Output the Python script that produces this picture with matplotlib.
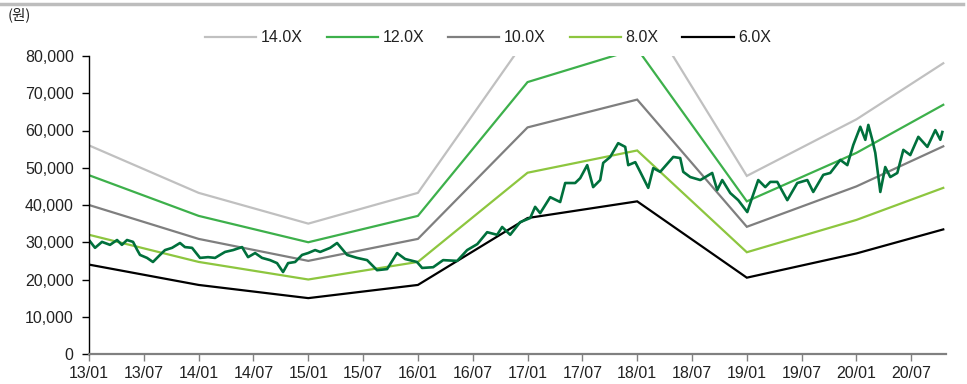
import matplotlib
matplotlib.use("Agg")
import matplotlib.pyplot as plt
from matplotlib.lines import Line2D
import numpy as np

# ---- data ----
tick_labels = ["13/01", "13/07", "14/01", "14/07", "15/01", "15/07", "16/01", "16/07",
               "17/01", "17/07", "18/01", "18/07", "19/01", "19/07", "20/01", "20/07"]
tick_months = [0, 6, 12, 18, 24, 30, 36, 42, 48, 54, 60, 66, 72, 78, 84, 90]

# band knots (months since 2013/01) and EPS (원)
eps_months = [0, 12, 24, 36, 48, 60, 72, 84, 93.5]
eps_values = [4000, 3090, 2500, 3090, 6083, 6830, 3415, 4500, 5575]
multiples = [14.0, 12.0, 10.0, 8.0, 6.0]
band_labels = ["14.0X", "12.0X", "10.0X", "8.0X", "6.0X"]
band_colors = ["#C0C0C0", "#3DB04B", "#7F7F7F", "#8DC63F", "#000000"]

price_months = [0, 0.66, 1.42, 2.3, 3.07, 3.6, 4.16, 4.82, 5.26, 5.58, 6.35, 7.0, 7.77, 8.32,
                9.09, 9.96, 10.5, 11.28, 12.15, 13.03, 13.8, 14.34, 14.89, 15.77, 16.75, 17.41,
                18.18, 18.94, 19.82, 20.58, 21.24, 21.79, 22.56, 23.32, 23.98, 24.75, 25.3,
                26.4, 27.15, 28.25, 29.34, 30.44, 31.53, 32.63, 33.72, 34.6, 35.9, 36.46,
                37.67, 38.76, 40.3, 41.39, 42.5, 43.58, 44.67, 45.22, 46.1, 47.19, 48.29,
                48.83, 49.38, 50.48, 51.57, 52.12, 53.21, 53.76, 54.53, 55.18, 55.95, 56.28,
                57.05, 57.92, 58.69, 59.02, 59.79, 60.33, 61.21, 61.76, 62.52, 63.95, 64.71,
                65.04, 65.81, 66.91, 68.21, 68.76, 69.31, 70.19, 71.06, 72.05, 72.6, 73.25,
                74.02, 74.57, 75.33, 76.43, 77.52, 78.62, 79.27, 80.37, 81.13, 82.23, 83.0,
                83.65, 84.42, 84.97, 85.3, 85.73, 86.06, 86.61, 87.15, 87.7, 88.47, 89.13,
                89.89, 90.77, 91.76, 92.63, 93.18, 93.4]
price_values = [30600, 28500, 30100, 29300, 30600, 29300, 30600, 30100, 28000, 26600, 25800,
                24700, 26600, 27900, 28500, 29800, 28700, 28500, 25800, 26000, 25800, 26600,
                27400, 27900, 28700, 26000, 27100, 25800, 25200, 24400, 22000, 24400, 24700,
                26600, 27100, 27900, 27400, 28500, 29800, 26600, 25800, 25200, 22500, 22800,
                27100, 25500, 24700, 23100, 23300, 25200, 25000, 27900, 29500, 32700, 32000,
                34100, 32000, 35400, 36500, 39500, 37800, 42100, 40800, 45900, 45900, 47200,
                50700, 44800, 46700, 51300, 52900, 56600, 55600, 50700, 51500, 48900, 44600,
                49900, 48900, 52900, 52600, 48900, 47500, 46700, 48600, 44000, 46700, 43200,
                41300, 38100, 42100, 46700, 44800, 46200, 46200, 41300, 45900, 46700, 43500,
                48100, 48600, 52100, 50700, 56100, 61000, 57500, 61500, 57500, 54000, 43500,
                50200, 47500, 48600, 54800, 53400, 58300, 55600, 60100, 57500, 59600]

# ---- figure ----
plt.rcParams['font.family'] = ['Liberation Sans', 'Noto Sans CJK KR', 'DejaVu Sans']
fig = plt.figure(figsize=(9.67, 3.84), dpi=100)
ax = fig.add_axes([89/967, 30/384, (946-89)/967, (354-56)/384])

for mult, lab, col in zip(multiples, band_labels, band_colors):
    ax.plot(eps_months, [e * mult for e in eps_values], color=col, lw=1.6, label=lab,
            solid_joinstyle='miter')
ax.plot(price_months, price_values, color="#00703C", lw=1.9)

ax.set_xlim(0, 93.8)
ax.set_ylim(0, 80000)
ax.set_yticks(np.arange(0, 80001, 10000))
ax.set_yticklabels([f"{v:,}" for v in range(0, 80001, 10000)])
ax.set_xticks(tick_months)
ax.set_xticklabels(tick_labels)
ax.tick_params(axis='both', labelsize=11.5, colors='#333333', length=5, width=1)
ax.tick_params(axis='x', colors='#808080', labelcolor='#222222', pad=4)
ax.tick_params(axis='y', colors='#000000', labelcolor='#222222', pad=6)

for s in ['top', 'right']:
    ax.spines[s].set_visible(False)
ax.spines['left'].set_color('#000000')
ax.spines['left'].set_linewidth(1.0)
ax.spines['bottom'].set_color('#808080')
ax.spines['bottom'].set_linewidth(1.6)

leg = fig.legend(loc='center', bbox_to_anchor=(488/967, 1 - 38/384), ncol=5, frameon=False,
                 fontsize=11.5, handlelength=3.2, handletextpad=0.3, columnspacing=1.5)
for t in leg.get_texts():
    t.set_color('#222222')

fig.text(8/967, 1 - 15/384, "(원)", fontsize=10.5, va='center', ha='left',
         family=['Noto Sans CJK KR', 'DejaVu Sans'], color='#222222')
fig.add_artist(Line2D([0, 0.996], [1 - 3.5/384, 1 - 3.5/384], color='#BDBDBD', lw=2.5))

fig.savefig("out.png", dpi=100)
